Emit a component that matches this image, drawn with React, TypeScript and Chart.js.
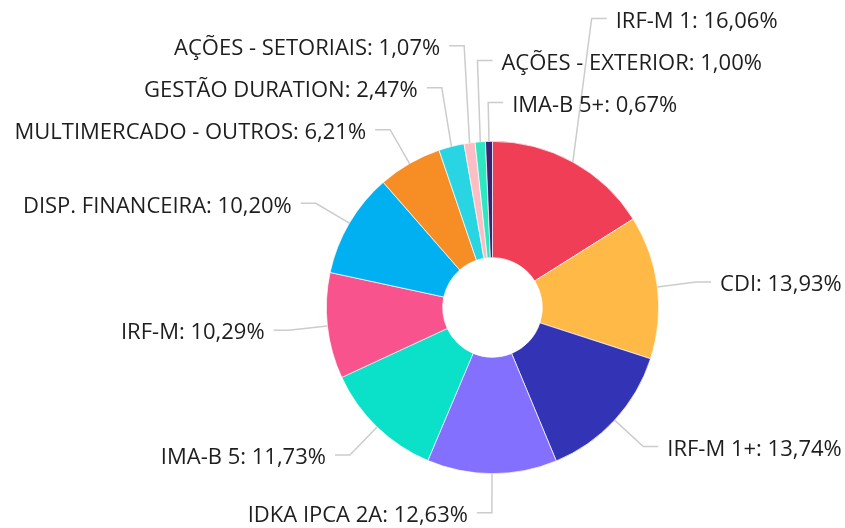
import React, { useEffect, useRef } from "react";
import { Chart, registerables } from "chart.js";

Chart.register(...registerables);

const categories = [
  "IRF-M 1",
  "CDI",
  "IRF-M 1+",
  "IDKA IPCA 2A",
  "IMA-B 5",
  "IRF-M",
  "DISP. FINANCEIRA",
  "MULTIMERCADO - OUTROS",
  "GESTÃO DURATION",
  "AÇÕES - SETORIAIS",
  "AÇÕES - EXTERIOR",
  "IMA-B 5+",
];

const values = [16.06, 13.93, 13.74, 12.63, 11.73, 10.29, 10.2, 6.21, 2.47, 1.07, 1.0, 0.67];

const colors = [
  "#EF3E55",
  "#FFB946",
  "#3333B5",
  "#8470FF",
  "#0BE0C8",
  "#F8538D",
  "#00B0F0",
  "#F78D25",
  "#29D5E3",
  "#FCBDC5",
  "#2EE6C1",
  "#3D2273",
];

// label columns, listed top to bottom
const rightColumn = ["IRF-M 1", "AÇÕES - EXTERIOR", "IMA-B 5+", "CDI", "IRF-M 1+"];
const leftColumn = [
  "AÇÕES - SETORIAIS",
  "GESTÃO DURATION",
  "MULTIMERCADO - OUTROS",
  "DISP. FINANCEIRA",
  "IRF-M",
  "IMA-B 5",
  "IDKA IPCA 2A",
];

const fmt = (v: number) => v.toFixed(2).replace(".", ",") + "%";

const outLabels = {
  id: "outLabels",
  afterDatasetsDraw(chart: any) {
    const meta = chart.getDatasetMeta(0);
    const ctx = chart.ctx;
    const dist = 39;
    const spacing = 42;
    const info: Record<string, any> = {};
    meta.data.forEach((arc: any, i: number) => {
      const p = arc.getProps(["x", "y", "startAngle", "endAngle", "outerRadius"], true);
      const mid = (p.startAngle + p.endAngle) / 2;
      const R = p.outerRadius + dist;
      info[categories[i]] = {
        ex: p.x + p.outerRadius * Math.cos(mid),
        ey: p.y + p.outerRadius * Math.sin(mid),
        bx: p.x + R * Math.cos(mid),
        ny: p.y + R * Math.sin(mid),
        text: categories[i] + ": " + fmt(values[i]),
      };
    });
    const layout = (col: string[], dir: number) => {
      const items = col.map((c) => info[c]).filter(Boolean);
      for (let k = items.length - 1; k >= 0; k--) {
        let y = items[k].ny;
        if (k < items.length - 1) y = Math.min(y, items[k + 1].ly - spacing);
        items[k].ly = y;
      }
      ctx.save();
      ctx.strokeStyle = "#cccccc";
      ctx.lineWidth = 1.5;
      ctx.fillStyle = "#1e1e1e";
      ctx.font = '22px "Open Sans"';
      ctx.textBaseline = "middle";
      ctx.textAlign = dir > 0 ? "left" : "right";
      items.forEach((it) => {
        ctx.beginPath();
        ctx.moveTo(it.ex, it.ey);
        ctx.lineTo(it.bx, it.ly);
        ctx.lineTo(it.bx + dir * 15, it.ly);
        ctx.stroke();
        ctx.fillText(it.text, it.bx + dir * 24, it.ly + 3);
      });
      ctx.restore();
    };
    layout(rightColumn, 1);
    layout(leftColumn, -1);
  },
};

export default function App() {
  const ref = useRef<HTMLCanvasElement>(null);
  useEffect(() => {
    if (!ref.current) return;
    const chart = new Chart(ref.current, {
      type: "doughnut",
      data: {
        labels: categories,
        datasets: [
          {
            data: values,
            backgroundColor: colors,
            borderColor: "#ffffff",
            borderWidth: 0.7,
          },
        ],
      },
      options: {
        responsive: false,
        animation: false,
        cutout: "30%",
        layout: { padding: { left: 326, right: 186, top: 141, bottom: 54 } },
        plugins: { legend: { display: false }, tooltip: { enabled: false } },
      },
      plugins: [outLabels],
    });
    return () => chart.destroy();
  }, []);
  return (
    <div style={{ position: "fixed", left: 0, top: 0, width: 845, height: 528, background: "#fff" }}>
      <canvas ref={ref} width={845} height={528} style={{ width: 845, height: 528 }} />
    </div>
  );
}
